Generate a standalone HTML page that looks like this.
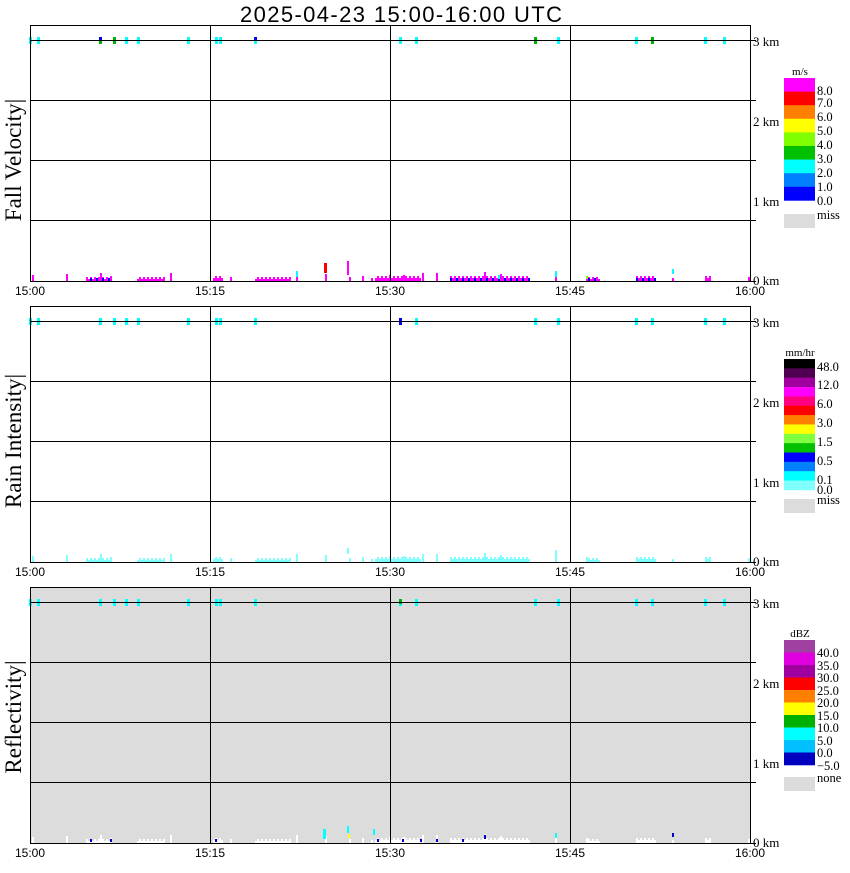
<!DOCTYPE html>
<html><head><meta charset="utf-8"><style>
body{margin:0;background:#fff;width:850px;height:868px;overflow:hidden}
svg text{font-family:"Liberation Serif",serif}
</style></head><body>
<svg id="s" width="850" height="868" xmlns="http://www.w3.org/2000/svg">
<text x="401" y="22" font-size="22" text-anchor="middle" textLength="322" style="font-family:'Liberation Sans',sans-serif">2025-04-23  15:00-16:00 UTC</text>
</svg>
<script>
var s=document.getElementById('s'),NS='http://www.w3.org/2000/svg';
function el(t,a,txt){var e=document.createElementNS(NS,t);for(var k in a)e.setAttribute(k,a[k]);if(txt!=null)e.textContent=txt;s.appendChild(e);return e;}
function R(x,y,w,h,c){el('rect',{x:x,y:y,width:w,height:h,fill:c});}
var offs=[0,281,562],titles=['Fall Velocity|','Rain Intensity|','Reflectivity|'],cent=[160,160,155];
var marks=[30,38,100,114,126,138,188,216,220,255,400,416,535,558,636,652,705,724];
var spans=[[86,110],[137,165],[213,222],[255,290],[375,420],[450,530],[588,600],[636,655],[705,710]];
var singles=[32,66,100,110,170,217,230,296,325,349,362,371,389,403,422,436,484,500,555,586,672,748];
offs.forEach(function(o,p){
  var T=25+o,B=281+o;
  if(p==2)R(30,T,720,B-T,'#dcdcdc');
  var base=p==0?'#ff00ff':p==1?'#80ffff':'#ffffff';
  spans.forEach(function(sp,i){for(var x=sp[0];x<sp[1];x+=2){var h=2+((x*7+i)%4);R(x,B-h,2,h,base);if(p==0&&x%6==0)R(x,B-3,2,3,'#0000ff');}});
  singles.forEach(function(x,i){var h=3+(x*13%7);R(x,B-h,2,h,base);});
  if(p==0){R(324,B-18,3,10,'#ff0000');R(347,B-20,2,14,'#ff00ff');R(296,B-10,2,6,'#00ffff');R(498,B-6,2,4,'#00ffff');R(555,B-10,2,6,'#00ffff');R(672,B-12,2,5,'#00ffff');R(586,B-5,2,3,'#80ff00');}
  if(p==1){R(347,B-14,2,6,'#80ffff');R(555,B-12,2,6,'#80ffff');}
  if(p==2){R(323,B-14,3,10,'#00ffff');R(347,B-17,2,7,'#00ffff');R(348,B-9,2,4,'#ffff00');R(373,B-14,2,6,'#00ffff');R(484,B-8,2,4,'#0000cc');R(672,B-10,2,4,'#0000cc');R(555,B-10,2,5,'#00ffff');
    [90,110,215,377,402,420,436,462].forEach(function(x){R(x,B-4,2,3,'#0000cc');});}
  marks.forEach(function(x,i){var c=(p==0&&[100,114,652,535].indexOf(x)>=0)?'#00b000':'#00ffff';R(x-1,T+12,3,7,c);if(p==0&&(x==100||x==255))R(x-1,T+12,3,4,'#0000ff');if(p==1&&x==400)R(x-1,T+12,3,7,'#0000ff');if(p==2&&x==400)R(x-1,T+12,3,5,'#00b000');});
  [40,100,160,220].forEach(function(y){el('line',{x1:30,x2:750,y1:y+o+.5,y2:y+o+.5,stroke:'#000'});el('line',{x1:750,x2:756,y1:y+o+.5,y2:y+o+.5,stroke:'#000'});});
  [210,390,570].forEach(function(x){el('line',{x1:x+.5,x2:x+.5,y1:T,y2:B,stroke:'#000'});});
  el('rect',{x:30.5,y:T+.5,width:720,height:B-T,fill:'none',stroke:'#000'});
  el('line',{x1:750,x2:756,y1:B+.5,y2:B+.5,stroke:'#000'});
  [['3 km',46],['2 km',126],['1 km',206],['0 km',285]].forEach(function(a){el('text',{x:753,y:a[1]+o,'font-size':13},a[0]);});
  [['15:00',15],['15:15',195],['15:30',375],['15:45',555],['16:00',735]].forEach(function(a){el('text',{x:a[1],y:295+o,'font-size':12,style:"font-family:'Liberation Sans',sans-serif"},a[0]);});
  el('text',{x:0,y:0,'font-size':23,transform:'translate(21,'+(cent[p]+o)+') rotate(-90)','text-anchor':'middle'},titles[p]);
});
function leg(x,y,h,cols,labs,unit,miss,my){el('text',{x:x+16,y:y-3,'font-size':11,'text-anchor':'middle'},unit);
 cols.forEach(function(c,i){R(x,y+i*h,31,h+.3,c);});
 labs.forEach(function(l){el('text',{x:x+33,y:l[1],'font-size':12.5},l[0]);});
 R(x,my,31,14,'#dcdcdc');el('text',{x:x+33,y:my+5,'font-size':12.5},miss);}
leg(784,78,13.6,['#ff00ff','#ff0000','#ff8000','#ffff00','#80ff00','#00c000','#00ffff','#0080ff','#0000ff'],
 [['8.0',95],['7.0',107],['6.0',121],['5.0',135],['4.0',149],['3.0',163],['2.0',177],['1.0',191],['0.0',205]],'m/s','miss',214);
leg(784,359,9.35,['#000000','#500050','#a000a0','#ff00ff','#ff0080','#ff0000','#ff8000','#ffff00','#80ff40','#00c000','#0000ff','#0080ff','#00ffff','#80ffff'],
 [['48.0',371],['12.0',389],['6.0',408],['3.0',427],['1.5',446],['0.5',465],['0.1',484],['0.0',494]],'mm/hr','miss',499);
leg(784,640,12.5,['#a040a0','#e000e0','#a000a0','#ff0000','#ff8000','#ffff00','#00b000','#00ffff','#00c0ff','#0000c0'],
 [['40.0',657],['35.0',670],['30.0',682],['25.0',695],['20.0',707],['15.0',720],['10.0',732],['5.0',745],['0.0',757],['\u22125.0',770]],'dBZ','none',777);
</script>
</body></html>
